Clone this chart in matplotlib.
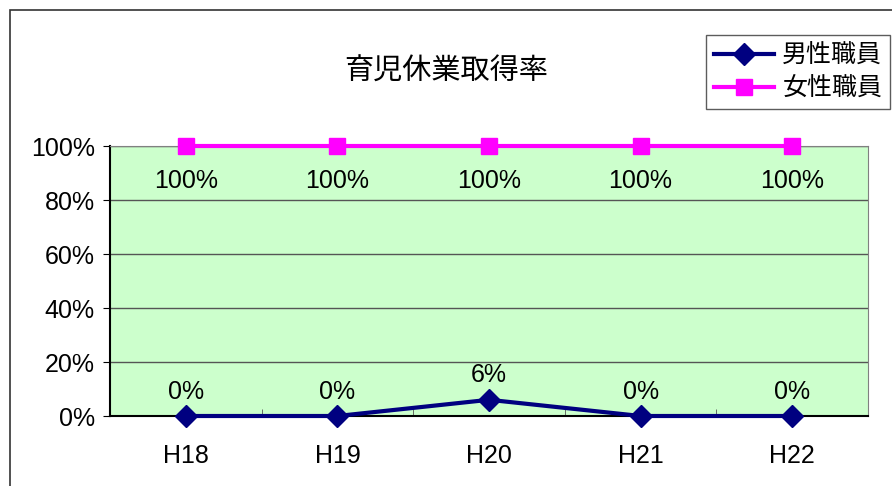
import matplotlib
matplotlib.use("Agg")
import matplotlib.pyplot as plt
from matplotlib.patches import Rectangle
from matplotlib import font_manager

names = {f.name for f in font_manager.fontManager.ttflist}
narrow = "Liberation Sans Narrow" if "Liberation Sans Narrow" in names else "Liberation Sans"
plt.rcParams["font.family"] = [narrow, "Noto Sans CJK JP"]

years = ["H18", "H19", "H20", "H21", "H22"]
male = [0, 0, 6, 0, 0]
female = [100, 100, 100, 100, 100]
yticks = [0, 20, 40, 60, 80, 100]

fig = plt.figure(figsize=(8.92, 4.86), dpi=100)
W, H = 892, 486

# outer chart-area border (runs off the right and bottom edge)
fig.patches.append(Rectangle((10 / W, -0.1), 1.2, (H - 10) / H + 0.1,
                             transform=fig.transFigure, fill=False,
                             edgecolor="#333333", linewidth=1.2))

ax = fig.add_axes([110 / W, (H - 416) / H, 758 / W, 270 / H])
ax.set_facecolor("#CCFFCC")
x = list(range(len(years)))

ax.plot(x, male, color="#000080", linewidth=3, marker="D", markersize=11,
        label="男性職員", zorder=4, clip_on=False)
ax.plot(x, female, color="#FF00FF", linewidth=3, marker="s", markersize=12,
        label="女性職員", zorder=4, clip_on=False)

fs = 18
for xi, v in zip(x, female):
    ax.annotate(f"{v}%", (xi, v), xytext=(0, -34), textcoords="offset points",
                ha="center", va="bottom", fontsize=fs)
for xi, v in zip(x, male):
    ax.annotate(f"{v}%", (xi, v), xytext=(0, 9), textcoords="offset points",
                ha="center", va="bottom", fontsize=fs)

ax.set_xlim(-0.5, len(years) - 0.5)
ax.set_ylim(0, 100)
ax.set_yticks(yticks)
ax.set_yticklabels([f"{t}%" for t in yticks], fontsize=fs)
ax.yaxis.grid(True, color="#555555", linewidth=1)
ax.set_axisbelow(True)
ax.tick_params(axis="y", direction="out", length=5, pad=6, color="black")

ax.set_xticks(x)
ax.set_xticklabels(years, fontsize=fs)
ax.tick_params(axis="x", which="major", length=0, pad=20)
ax.set_xticks([i + 0.5 for i in x[:-1]], minor=True)
ax.tick_params(axis="x", which="minor", direction="in", length=5, color="#555555")

for side in ["top", "right"]:
    ax.spines[side].set_color("#808080")
for side in ["left", "bottom"]:
    ax.spines[side].set_color("black")
    ax.spines[side].set_linewidth(1.5)

fig.text(446 / W, 1 - 72 / H, "育児休業取得率", ha="center", va="center",
         fontsize=21, family=["Noto Sans CJK JP"])

leg = fig.legend(loc="upper left", bbox_to_anchor=(706 / W, 1 - 35 / H),
                 prop={"family": ["Noto Sans CJK JP"], "size": 18},
                 frameon=True, fancybox=False, edgecolor="#333333",
                 handlelength=2.4, borderpad=0.3, labelspacing=0.3,
                 handletextpad=0.35, borderaxespad=0)
leg.get_frame().set_linewidth(1)

fig.savefig("out.png", dpi=100)
